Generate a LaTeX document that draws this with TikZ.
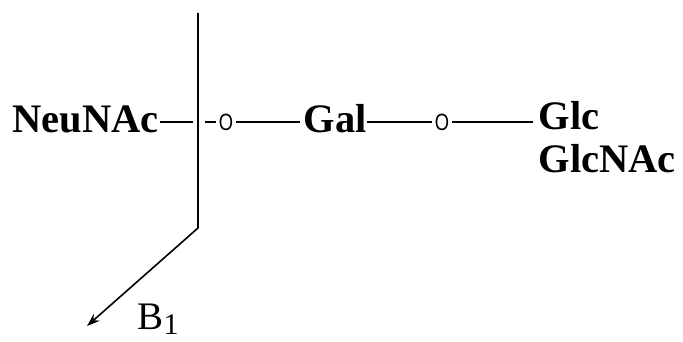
\documentclass[tikz,border=0pt]{standalone}
\usepackage{fontspec}
\setmainfont{Liberation Serif}
\newfontfamily\oxyfont{Liberation Sans}
\usetikzlibrary{arrows.meta, calc}

\begin{document}
\begin{tikzpicture}[x=1pt, y=-1pt, line width=1.4pt,
  sugar/.style={font=\fontsize{40.5}{40.5}\selectfont\bfseries, inner sep=0pt, anchor=base west},
  oxy/.style={font=\fontsize{23.5}{23.5}\selectfont\oxyfont, inner sep=0pt, outer sep=3pt}]
  \useasboundingbox (0,0) rectangle (683,342);
  % residues
  \node[sugar] (neu) at (12,133) {NeuNAc};
  \node[sugar] (gal) at (303,133) {Gal};
  \node[sugar] (glc) at (538,130) {Glc};
  \node[sugar] (glcnac) at (538,172) {GlcNAc};
  \node[oxy] (o1) at (226,122) {\scalebox{0.78}[1]{O}};
  \node[oxy] (o2) at (442,122) {\scalebox{0.78}[1]{O}};
  % cleavage line
  \coordinate (cuttop) at (198,13);
  \coordinate (cutbend) at (198,228);
  \coordinate (cuttip) at (87,326);
  \coordinate (cutL) at (193,122);
  \coordinate (cutR) at (205,122);
  \draw[line width=1.6pt, -{Stealth[length=13pt,width=9pt]}] (cuttop) -- (cutbend) -- (cuttip);
  \node[anchor=base west, inner sep=0pt, font=\fontsize{39}{39}\selectfont] (b1) at (137,329)
    {B\raisebox{-5pt}{\fontsize{30}{30}\selectfont 1}};
  % bonds
  \draw (neu.east |- cutL) -- (cutL);
  \draw (cutR) -- (o1);
  \draw[shorten >=3pt] (o1) -- (o1 -| gal.west);
  \draw (gal.east |- o2) -- (o2);
  \draw[shorten >=5pt] (o2) -- (o2 -| glc.west);
\end{tikzpicture}
\end{document}
